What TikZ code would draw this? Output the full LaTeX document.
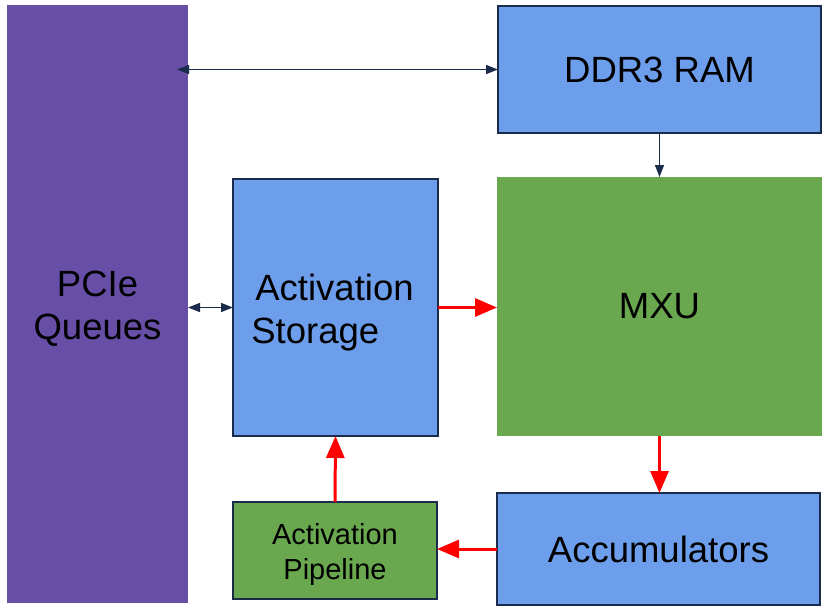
\documentclass[tikz,border=0pt]{standalone}
\usepackage{fontspec}
\setmainfont{Liberation Sans}
\usetikzlibrary{arrows.meta}
\definecolor{pcieviolet}{HTML}{674EA7}
\definecolor{memblue}{HTML}{6D9EEB}
\definecolor{unitgreen}{HTML}{6AA84F}
\definecolor{edgenavy}{HTML}{1B2B4B}
\definecolor{flowred}{HTML}{FF0000}
\tikzset{
  block/.style={rectangle, inner sep=0pt, outer sep=0pt, font=\fontsize{36.5}{43}\selectfont},
  bluebox/.style={block, fill=memblue, draw=edgenavy, line width=1.6pt},
  greenbox/.style={block, fill=unitgreen},
  boxtext/.style={inner sep=0pt, font=\fontsize{36.5}{43}\selectfont},
  ctrl/.style={draw=edgenavy, line width=1.6pt, -{Triangle[length=12pt,width=9pt]}},
  ctrlboth/.style={draw=edgenavy, line width=1.6pt, {Triangle[length=12pt,width=9pt]}-{Triangle[length=12pt,width=9pt]}},
  data/.style={draw=flowred, line width=3pt, -{Triangle[length=22pt,width=18pt]}},
}
\begin{document}
\begin{tikzpicture}[x=1pt, y=-1pt]
  \useasboundingbox (0,0) rectangle (823,606);

  % blocks
  \node[block, fill=pcieviolet, minimum width=181pt, minimum height=598pt]
    (pcie) at (97.5,304) {};
  \node[bluebox, minimum width=323pt, minimum height=127pt]
    (ddr) at (659.5,69.5) {DDR3 RAM};
  \node[greenbox, minimum width=325pt, minimum height=259pt]
    (mxu) at (659.5,306.5) {MXU};
  \node[bluebox, minimum width=205pt, minimum height=257pt]
    (store) at (335.5,307.5) {};
  \node[block, fill=unitgreen, draw=edgenavy, line width=1.6pt, minimum width=204pt, minimum height=97pt]
    (pipe) at (335,550.5) {};
  \node[bluebox, minimum width=323pt, minimum height=112pt]
    (acc) at (658.5,549) {Accumulators};

  % two-line captions of the taller blocks
  \node[boxtext, align=center] (pcielabel) at ([yshift=-5pt]pcie.center) {PCIe\\Queues};
  \node[boxtext, align=left] (storelabel) at ([xshift=-3pt,yshift=-5pt]store.center) {\hspace*{4pt}Activation\\Storage};
  \node[boxtext, align=center, font=\fontsize{29}{35}\selectfont] (pipelabel) at ([yshift=-3.5pt]pipe.center) {Activation\\Pipeline};

  % host and memory links
  \draw[ctrlboth] ([xshift=-11pt]pcie.east |- ddr.west) -- (ddr.west);
  \draw[ctrlboth] (pcie.east |- store.west) -- (store.west);
  \draw[ctrl] (ddr.south) -- (ddr.south |- mxu.north);

  % data path
  \draw[data] (store.east) -- (store.east -| mxu.west);
  \draw[data] (mxu.south) -- (mxu.south |- acc.north);
  \draw[data] (acc.west) -- (acc.west -| pipe.east);
  \draw[data] (pipe.north) -- (store.south);
\end{tikzpicture}
\end{document}
